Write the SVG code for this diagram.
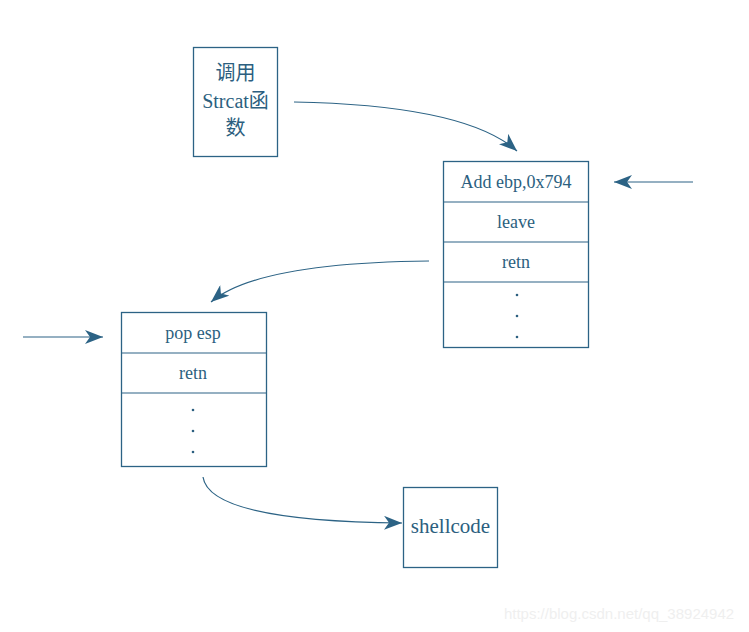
<svg xmlns="http://www.w3.org/2000/svg" width="749" height="632" viewBox="0 0 749 632">
<style>
.box{fill:#fff;stroke:#2c6385;stroke-width:1.3}
.sep{stroke:#2c6385;stroke-width:1.2}
.t{font-family:'Liberation Serif','DejaVu Serif','Times New Roman','Noto Sans CJK SC',serif;fill:#2c5f80;text-anchor:middle}
.c{fill:none;stroke:#2c6385;stroke-width:1.2}
.dot{fill:#2c5f80}
</style>
<defs>
<marker id="ah" markerWidth="20" markerHeight="14" refX="18" refY="7" orient="auto" markerUnits="userSpaceOnUse">
<path d="M0,0 L18,7 L0,14 L5,7 Z" fill="#2c6385"/>
</marker>
</defs>
<rect width="749" height="632" fill="#fff"/>
<g id="connectors">
<path class="c" d="M294,102 C400,104 480,118 517,151" marker-end="url(#ah)"/>
<path class="c" d="M693,182 L614,182" marker-end="url(#ah)"/>
<path class="c" d="M429,261 C330,262 245,273 211,302" marker-end="url(#ah)"/>
<path class="c" d="M23,337 L103,337" marker-end="url(#ah)"/>
<path class="c" d="M203,477 C208,512 300,522 402,523" marker-end="url(#ah)"/>
</g>
<g id="node-strcat">
<rect class="box" x="193.5" y="47.5" width="84" height="109"/>
<text class="t" x="235.5" y="80" font-size="20">调用</text>
<text class="t" x="235.5" y="108" font-size="20">Strcat函</text>
<text class="t" x="235.5" y="135" font-size="20">数</text>
</g>
<g id="node-stack1">
<rect class="box" x="443.5" y="161.5" width="145" height="186"/>
<line class="sep" x1="443.5" y1="202" x2="588.5" y2="202"/>
<line class="sep" x1="443.5" y1="242" x2="588.5" y2="242"/>
<line class="sep" x1="443.5" y1="282" x2="588.5" y2="282"/>
<text class="t" x="516" y="187.5" font-size="18">Add ebp,0x794</text>
<text class="t" x="516" y="227.5" font-size="18">leave</text>
<text class="t" x="516" y="267.5" font-size="18">retn</text>
<circle class="dot" cx="517" cy="295" r="1.3"/>
<circle class="dot" cx="517" cy="316" r="1.3"/>
<circle class="dot" cx="517" cy="337" r="1.3"/>
</g>
<g id="node-stack2">
<rect class="box" x="121.5" y="312.5" width="145" height="154"/>
<line class="sep" x1="121.5" y1="353" x2="266.5" y2="353"/>
<line class="sep" x1="121.5" y1="393" x2="266.5" y2="393"/>
<text class="t" x="193" y="339" font-size="18">pop esp</text>
<text class="t" x="193" y="378.5" font-size="18">retn</text>
<circle class="dot" cx="193" cy="410" r="1.3"/>
<circle class="dot" cx="193" cy="431" r="1.3"/>
<circle class="dot" cx="193" cy="452" r="1.3"/>
</g>
<g id="node-shellcode">
<rect class="box" x="403.5" y="487.5" width="94" height="80"/>
<text class="t" x="450.5" y="533" font-size="21">shellcode</text>
</g>
<text x="619" y="619" font-family="'Liberation Sans',Arial,sans-serif" font-size="15" fill="#efefef" text-anchor="middle">https://blog.csdn.net/qq_38924942</text>
</svg>
